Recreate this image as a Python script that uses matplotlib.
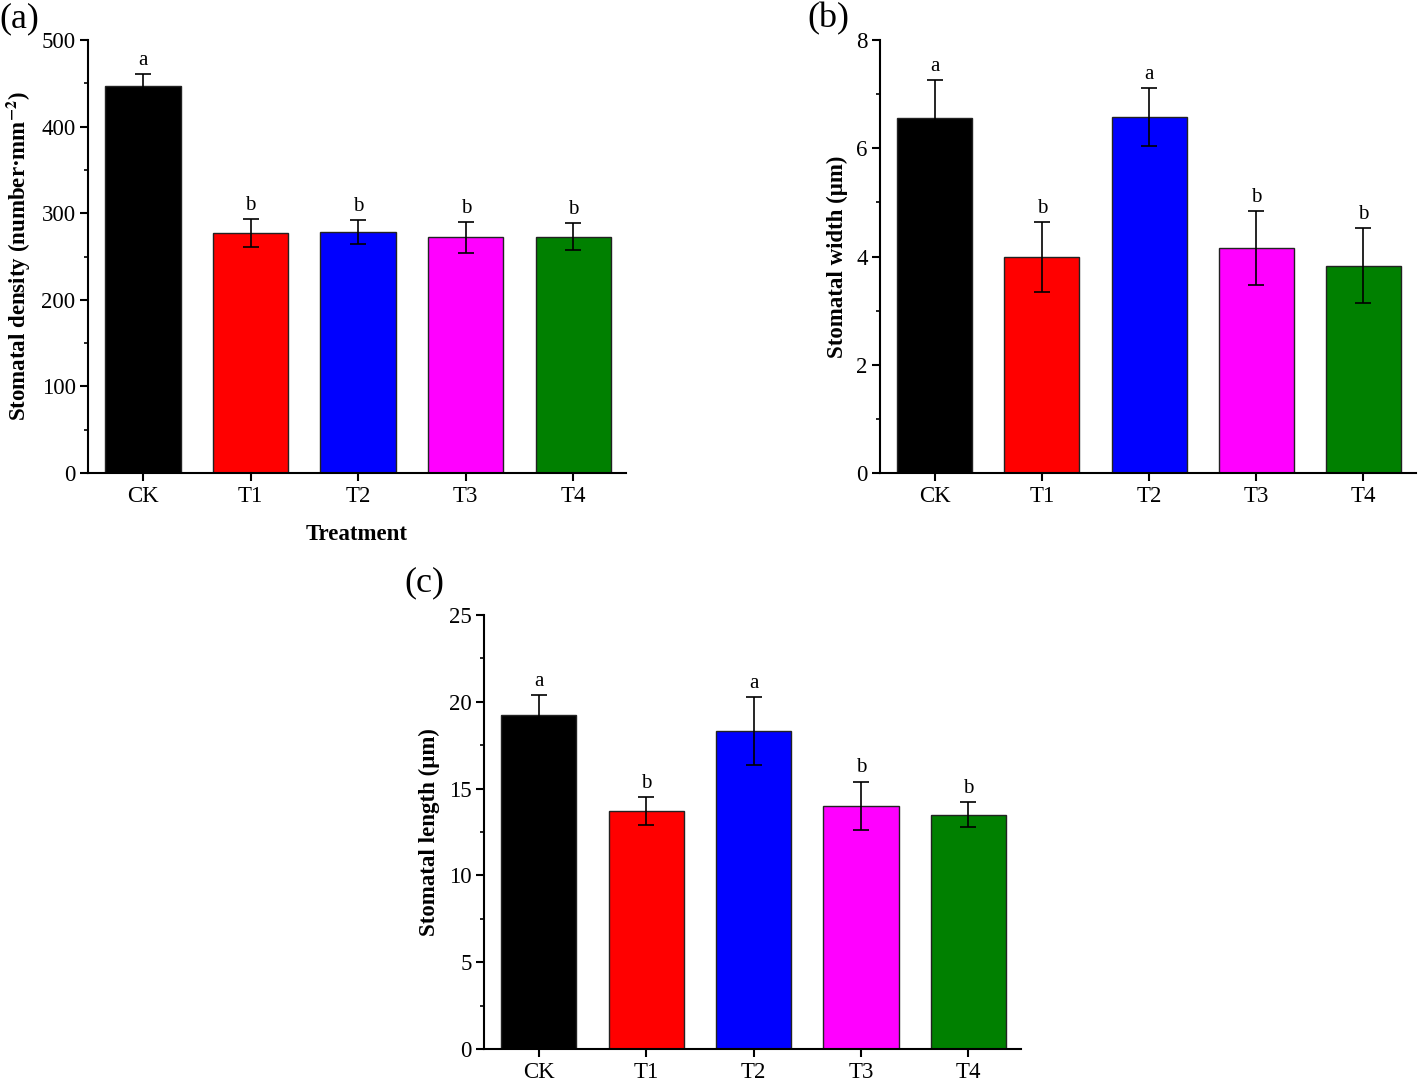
import matplotlib
matplotlib.use("Agg")
import matplotlib.pyplot as plt
import numpy as np

plt.rcParams['font.family'] = ['Liberation Serif', 'DejaVu Serif']
plt.rcParams['mathtext.fontset'] = 'stix'

categories = ["CK", "T1", "T2", "T3", "T4"]
colors = ["#000000", "#ff0000", "#0000ff", "#ff00ff", "#008000"]

density = [447, 277, 278, 272, 273]
density_err = [14, 16, 14, 18, 16]
density_letters = ["a", "b", "b", "b", "b"]

width_vals = [6.56, 3.99, 6.58, 4.16, 3.83]
width_err = [0.70, 0.64, 0.53, 0.68, 0.69]
width_letters = ["a", "b", "a", "b", "b"]

length_vals = [19.25, 13.7, 18.3, 14.0, 13.5]
length_err = [1.15, 0.8, 1.95, 1.4, 0.7]
length_letters = ["a", "b", "a", "b", "b"]

fig = plt.figure(figsize=(14.18, 10.81), dpi=100)
ax_a = fig.add_axes([0.0621, 0.5624, 0.3794, 0.4006])
ax_b = fig.add_axes([0.6206, 0.5624, 0.3780, 0.4006])
ax_c = fig.add_axes([0.3413, 0.0296, 0.3787, 0.4015])

def panel(ax, vals, errs, letters, ymax, major, ylabel, tag, tagpos, xlabel=None):
    x = np.arange(len(categories))
    ax.bar(x, vals, width=0.7, color=colors, edgecolor="#222222", linewidth=1.0, zorder=2)
    ax.errorbar(x, vals, yerr=errs, fmt="none", ecolor="black", elinewidth=1.2,
                capsize=5.5, capthick=1.2, zorder=3)
    for xi, v, e, l in zip(x, vals, errs, letters):
        ax.annotate(l, (xi, v + e), xytext=(0, 3), textcoords="offset points",
                    ha="center", va="bottom", fontsize=15)
    ax.set_xlim(-0.51, 4.49)
    ax.set_ylim(0, ymax)
    ax.set_yticks(np.arange(0, ymax + major / 2, major))
    ax.set_yticks(np.arange(major / 2, ymax, major), minor=True)
    ax.set_xticks(x)
    ax.set_xticklabels(categories)
    for s in ["top", "right"]:
        ax.spines[s].set_visible(False)
    for s in ["left", "bottom"]:
        ax.spines[s].set_linewidth(1.5)
    ax.tick_params(axis="both", which="major", direction="out", length=5.5, width=1.5,
                   labelsize=16.5)
    ax.tick_params(axis="x", which="major", pad=4)
    ax.tick_params(axis="y", which="minor", direction="out", length=3, width=1.2)
    ax.set_ylabel(ylabel, fontsize=16.5, fontweight="bold", labelpad=6)
    if xlabel:
        ax.set_xlabel(xlabel, fontsize=16.5, fontweight="bold", labelpad=12)
    ax.text(tagpos[0], tagpos[1], tag, transform=ax.transAxes, fontsize=26,
            ha="left", va="center")

panel(ax_a, density, density_err, density_letters, 500, 100,
      r"Stomatal density (number·mm$^{\mathbf{-2}}$)", "(a)", (-0.165, 1.05),
      xlabel="Treatment")
panel(ax_b, width_vals, width_err, width_letters, 8, 2,
      "Stomatal width (μm)", "(b)", (-0.136, 1.05))
panel(ax_c, length_vals, length_err, length_letters, 25, 5,
      "Stomatal length (μm)", "(c)", (-0.149, 1.074))

fig.savefig("out.png", dpi=100)
